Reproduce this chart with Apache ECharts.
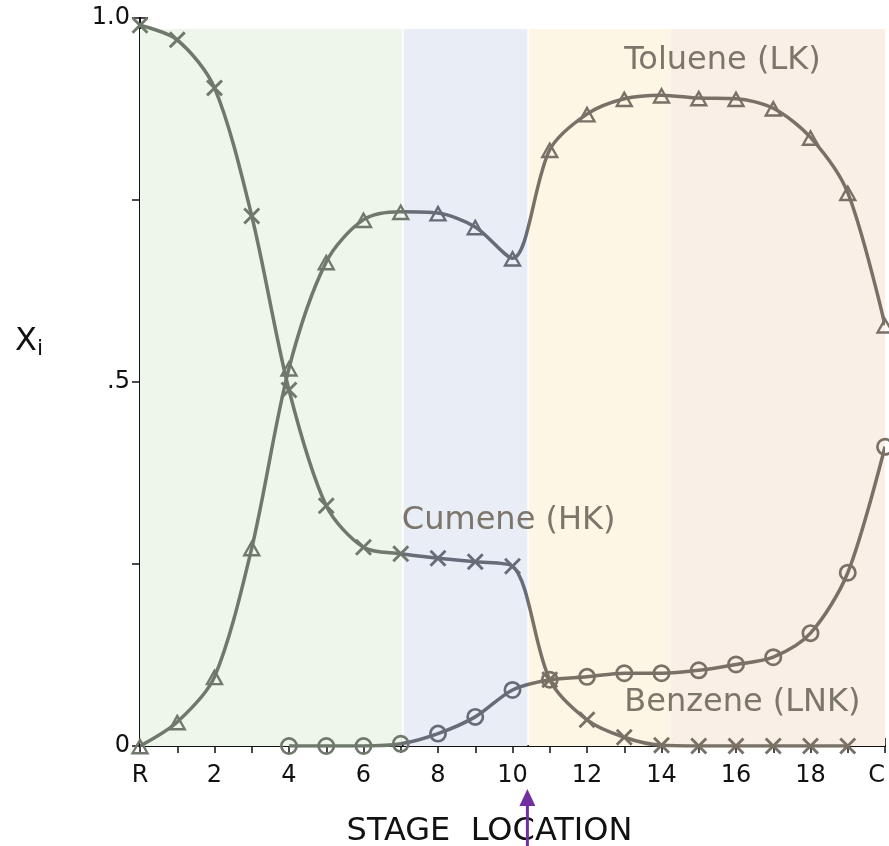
<!DOCTYPE html>
<html>
<head>
<meta charset="utf-8">
<script src="https://cdn.jsdelivr.net/npm/echarts@6/dist/echarts.min.js"></script>
<style>
  html, body { margin: 0; padding: 0; background: #fff; overflow: hidden; }
  #chart { width: 889px; height: 846px; }
</style>
</head>
<body>
<div id="chart"></div>
<script>
// ---- data ----
const stages = [0,1,2,3,4,5,6,7,8,9,10,11,12,13,14,15,16,17,18,19,20];
const stageLabels = {0: 'R', 20: 'C'};
const cumene  = [0.99,0.97,0.904,0.728,0.489,0.33,0.273,0.264,0.258,0.253,0.247,0.091,0.036,0.012,0.001,0,0,0,0,0];
const toluene = [0,0.033,0.095,0.272,0.519,0.665,0.723,0.734,0.732,0.713,0.67,0.819,0.868,0.889,0.894,0.89,0.889,0.876,0.836,0.76,0.578];
const benzene = [null,null,null,null,0,0,0,0.003,0.017,0.04,0.077,0.091,0.095,0.1,0.1,0.104,0.112,0.122,0.155,0.238,0.411];
const yTickLabels = {0: '0', 0.5: '.5', 1: '1.0'};
// shaded stage regions [from, to]
const bands = [[0, 7.03], [7.08, 10.4], [10.44, 14.25], [14.25, 20.15]];
const bandColors = ['#eef5ea', '#e9edf6', '#fdf6e5', '#f9efe7'];
// series name labels: [text, stage, value]
const seriesLabels = [['Toluene (LK)', 13.0, 0.942], ['Cumene (HK)', 7.03, 0.31], ['Benzene (LNK)', 13.0, 0.059]];
const feedStage = 10.4;

const lineGreen = '#6e796c', lineBlue = '#666c78', lineBrown = '#797166';
const textColor = '#7b756a';

const symX = 'path://M0,1.2 L1.2,0 L5,3.8 L8.8,0 L10,1.2 L6.2,5 L10,8.8 L8.8,10 L5,6.2 L1.2,10 L0,8.8 L3.8,5 Z';
const symTri = 'path://M5,0 L10,9 L0,9 Z M5,2.6 L2.1,7.7 L7.9,7.7 Z';
const symCirc = 'path://M5,0 A5,5 0 1,1 5,10 A5,5 0 1,1 5,0 Z M5,1.5 A3.5,3.5 0 1,0 5,8.5 A3.5,3.5 0 1,0 5,1.5 Z';

function pairs(arr) {
  const out = [];
  arr.forEach((v, i) => { if (v !== null) out.push([stages[i], v]); });
  return out;
}

const chart = echarts.init(document.getElementById('chart'));
const axisFont = { fontFamily: 'DejaVu Sans', fontSize: 24, color: '#111' };

const option = {
  animation: false,
  grid: { left: 140, right: 4, top: 18, bottom: 100, outerBoundsMode: 'none', containLabel: false },
  xAxis: [{
    type: 'value', min: 0, max: 20, interval: 1,
    axisLine: { lineStyle: { color: '#111', width: 2 } },
    axisTick: { inside: true, length: 8, lineStyle: { color: '#111', width: 1.5 } },
    splitLine: { show: false },
    axisLabel: Object.assign({ margin: 18, alignMaxLabel: 'right', formatter: v => stageLabels[v] !== undefined ? stageLabels[v] : (v % 2 === 0 ? String(v) : '') }, axisFont),
    name: 'STAGE  LOCATION', nameLocation: 'middle', nameGap: 70,
    nameTextStyle: { fontFamily: 'DejaVu Sans', fontSize: 32, color: '#111', padding: [0, 46, 0, 0] }
  }, {
    type: 'value', min: 0, max: 20, interval: 1, position: 'top',
    axisLine: { lineStyle: { color: '#111', width: 2 } },
    axisTick: { inside: true, length: 7, lineStyle: { color: '#111', width: 1.5 } },
    splitLine: { show: false }, axisLabel: { show: false }
  }],
  yAxis: [{
    type: 'value', min: 0, max: 1, interval: 0.25,
    axisLine: { show: true, lineStyle: { color: '#111', width: 2 } },
    axisTick: { show: true, inside: true, length: 8, lineStyle: { color: '#111', width: 1.5 } },
    splitLine: { show: false },
    axisLabel: Object.assign({ margin: 10, formatter: v => yTickLabels[v] !== undefined ? yTickLabels[v] : '' }, axisFont)
  }, {
    type: 'value', min: 0, max: 1, interval: 0.25, position: 'right',
    axisLine: { show: true, lineStyle: { color: '#111', width: 2 } },
    axisTick: { show: true, inside: true, length: 8, lineStyle: { color: '#111', width: 1.5 } },
    splitLine: { show: false }, axisLabel: { show: false }
  }],
  visualMap: {
    type: 'piecewise', show: false, dimension: 0, seriesIndex: [0, 1, 2],
    pieces: [
      { gte: 0, lt: 7.03, color: lineGreen },
      { gte: 7.03, lt: 10.42, color: lineBlue },
      { gte: 10.42, lte: 20, color: lineBrown }
    ]
  },
  series: [
    { name: 'Cumene (HK)', type: 'line', data: pairs(cumene), smooth: 0.3,
      symbol: symX, symbolSize: 17, lineStyle: { width: 3.5 }, z: 3 },
    { name: 'Toluene (LK)', type: 'line', data: pairs(toluene), smooth: 0.3,
      symbol: symTri, symbolSize: [19, 17], lineStyle: { width: 3.5 }, z: 3 },
    { name: 'Benzene (LNK)', type: 'line', data: pairs(benzene), smooth: 0.3,
      symbol: symCirc, symbolSize: 18, lineStyle: { width: 3.5 }, z: 3 },
    { type: 'line', data: [], silent: true, z: 1,
      markArea: {
        silent: true,
        data: bands.map((b, i) => [
          { xAxis: b[0], yAxis: 0, itemStyle: { color: bandColors[i], borderWidth: 0 } },
          { xAxis: b[1], yAxis: 0.985 }
        ])
      } }
  ]
};
chart.setOption(option);

// annotations positioned through the axes
const graphics = seriesLabels.map(l => {
  const p = chart.convertToPixel({ gridIndex: 0 }, [l[1], l[2]]);
  return { type: 'text', x: p[0], y: p[1], z: 10,
    style: { text: l[0], fill: textColor, fontSize: 32, fontFamily: 'DejaVu Sans', verticalAlign: 'middle', textVerticalAlign: 'middle' } };
});
const fx = chart.convertToPixel({ gridIndex: 0 }, [feedStage, 0])[0];
graphics.push({ type: 'line', z: 10, shape: { x1: fx, y1: 846, x2: fx, y2: 804 }, style: { stroke: '#7030a0', lineWidth: 3 } });
graphics.push({ type: 'polygon', z: 10, shape: { points: [[fx - 8, 806], [fx + 8, 806], [fx, 789]] }, style: { fill: '#7030a0' } });
graphics.push({ type: 'text', left: 15, top: 326, z: 10,
  style: { text: '{a|X}{b|i}', rich: { a: { fontSize: 32, fontFamily: 'DejaVu Sans', fill: '#111' }, b: { fontSize: 22, fontFamily: 'DejaVu Sans', fill: '#111', padding: [14, 0, 0, 0] } } } });
chart.setOption({ graphic: graphics });
</script>
</body>
</html>
